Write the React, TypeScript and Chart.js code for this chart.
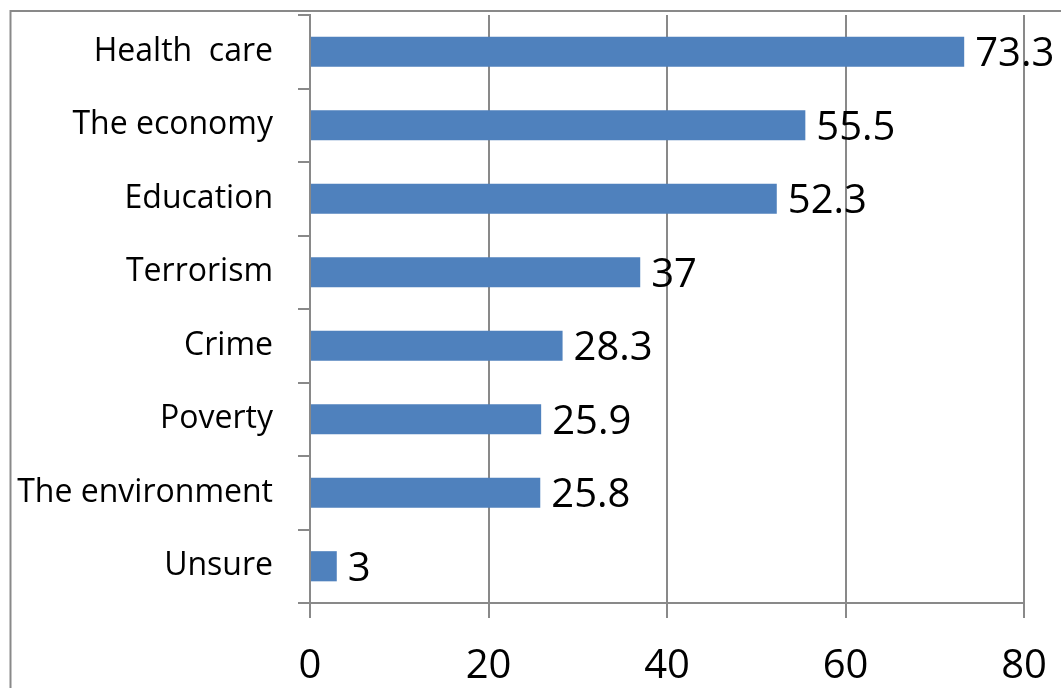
import React, { useEffect, useRef } from "react";
import { Chart, registerables } from "chart.js";

Chart.register(...registerables);

const categories = [
  "Health  care",
  "The economy",
  "Education",
  "Terrorism",
  "Crime",
  "Poverty",
  "The environment",
  "Unsure",
];
const values = [73.3, 55.5, 52.3, 37, 28.3, 25.9, 25.8, 3];
const xTickValues = [0, 20, 40, 60, 80];

const GRID = "#898989";
const BAR = "#4F81BD";
const FONT = "'Open Sans', 'Noto Sans', sans-serif";

const frame = {
  id: "frame",
  beforeDraw(chart: any) {
    const ctx = chart.ctx;
    ctx.save();
    ctx.fillStyle = "#ffffff";
    ctx.fillRect(0, 0, chart.width, chart.height);
    ctx.strokeStyle = GRID;
    ctx.lineWidth = 2;
    ctx.strokeRect(10.5, 11, 3000, 3000);
    ctx.restore();
  },
};

const valueLabels = {
  id: "valueLabels",
  afterDatasetsDraw(chart: any) {
    const ctx = chart.ctx;
    const meta = chart.getDatasetMeta(0);
    const data = chart.data.datasets[0].data;
    ctx.save();
    ctx.font = `40px ${FONT}`;
    ctx.fillStyle = "#000000";
    ctx.textAlign = "left";
    ctx.textBaseline = "middle";
    meta.data.forEach((bar: any, i: number) => {
      ctx.fillText(String(data[i]), bar.x + 11, bar.y + 3);
    });
    ctx.restore();
  },
};

export default function App() {
  const ref = useRef<HTMLCanvasElement | null>(null);
  useEffect(() => {
    if (!ref.current) return;
    const chart = new Chart(ref.current, {
      type: "bar",
      data: {
        labels: categories,
        datasets: [
          {
            data: values,
            backgroundColor: BAR,
            borderWidth: 0,
            barPercentage: 0.41,
            categoryPercentage: 1,
          },
        ],
      },
      options: {
        indexAxis: "y",
        animation: false,
        responsive: false,
        layout: { padding: { top: 15, right: 37, left: 0, bottom: 0 } },
        plugins: {
          legend: { display: false },
          tooltip: { enabled: false },
        },
        scales: {
          x: {
            min: 0,
            max: 80,
            afterBuildTicks: (s: any) => {
              s.ticks = xTickValues.map((v) => ({ value: v }));
            },
            afterFit: (s: any) => {
              s.height = 85;
              s.paddingLeft = 0;
              s.paddingRight = 0;
            },
            grid: {
              color: GRID,
              lineWidth: 2,
              tickLength: 15,
              drawOnChartArea: true,
            },
            border: { color: GRID, width: 2 },
            ticks: {
              color: "#000000",
              font: { family: FONT, size: 40 },
              padding: 25,
              maxRotation: 0,
            },
          },
          y: {
            afterFit: (s: any) => {
              s.width = 310;
              s.paddingTop = 0;
              s.paddingBottom = 0;
            },
            grid: {
              color: GRID,
              lineWidth: 2,
              tickLength: 12,
              drawOnChartArea: false,
              offset: true,
            },
            border: { color: GRID, width: 2 },
            ticks: {
              color: "#000000",
              font: { family: FONT, size: 32 },
              padding: 25,
            },
          },
        },
      },
      plugins: [frame, valueLabels],
    });
    return () => chart.destroy();
  }, []);
  return (
    <canvas
      ref={ref}
      width={1061}
      height={688}
      style={{ position: "fixed", left: 0, top: 0, display: "block" }}
    />
  );
}
